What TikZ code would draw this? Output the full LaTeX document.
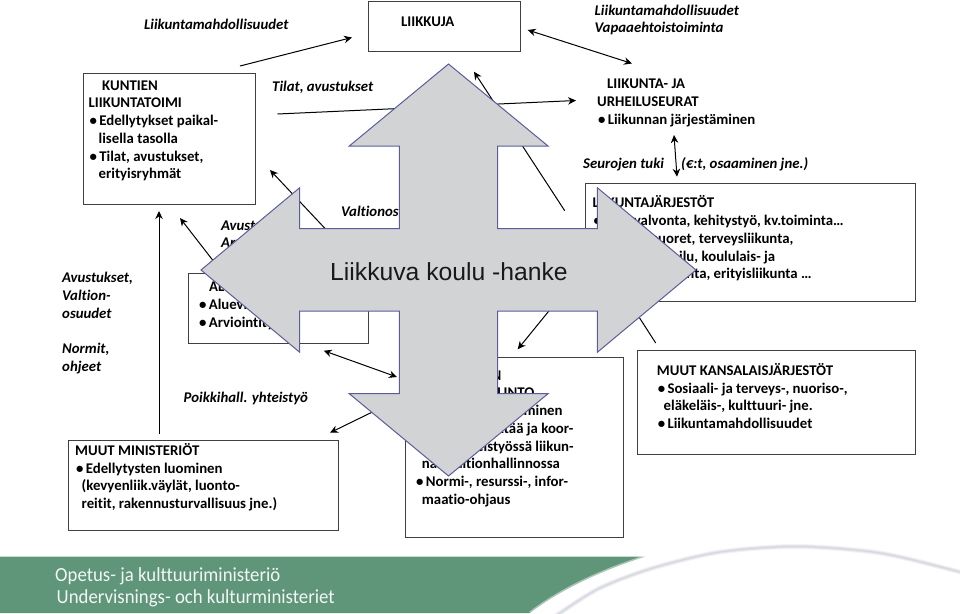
\documentclass[tikz,border=0pt]{standalone}
\usepackage{fontspec}
\setmainfont{Carlito}[Ligatures=CommonOff]
\newfontfamily\bigfont{Liberation Sans}
\newfontfamily\footfont{Carlito}[Ligatures=CommonOff,FakeStretch=0.94]
\usetikzlibrary{arrows.meta}
\definecolor{boxline}{HTML}{404040}
\definecolor{crossfill}{HTML}{D1D3D4}
\definecolor{crossline}{HTML}{5C5C9C}
\definecolor{bandgreen}{HTML}{5F9579}
\definecolor{swoosh}{HTML}{D5D8DE}
\newcommand\fl{\rule{0pt}{12pt}}
\newcommand\bu{\makebox[9.6pt][l]{•}}
\tikzset{
  boxnode/.style={draw=boxline,line width=1.1pt,fill=white,anchor=north west,inner sep=0pt},
  txt/.style={anchor=north west,inner sep=0pt,align=left,font=\fontsize{14.8}{17.75}\selectfont\bfseries},
  itxt/.style={txt,font=\fontsize{14.8}{17.75}\selectfont\bfseries\itshape},
  conn/.style={line width=1pt,draw=black},
  tipend/.style={conn,-{Stealth[length=8pt,width=7.5pt]}},
  tipboth/.style={conn,{Stealth[length=8pt,width=7.5pt]}-{Stealth[length=8pt,width=7.5pt]}},
  cross/.style={fill=crossfill,draw=crossline,line width=1pt,line join=miter},
  foot/.style={anchor=base west,inner sep=0pt,text=white!92!bandgreen,font=\footfont\fontsize{20}{22}\selectfont}
}
\begin{document}
\begin{tikzpicture}[x=1pt,y=-1pt]
\useasboundingbox (0,0) rectangle (960,613);
% footer
\fill[bandgreen] (0,556.7) -- (645,556.7) .. controls (600,571) and (560,590) .. (530,613) -- (0,613) -- cycle;
\draw[white,opacity=.45,line width=3pt] (645,556.7) .. controls (600,571) and (560,590) .. (530,613);
\draw[swoosh!30!white,line width=5pt] plot[smooth] coordinates {(540,628)(560,613)(600,588)(653,568)(720,552)(797,546.5)(880,553)(960,572)(985,580)};
\draw[swoosh!65!white,line width=3pt] plot[smooth] coordinates {(540,628)(560,613)(600,588)(653,568)(720,552)(797,546.5)(880,553)(960,572)(985,580)};
\draw[swoosh,line width=1.2pt] plot[smooth] coordinates {(540,628)(560,613)(600,588)(653,568)(720,552)(797,546.5)(880,553)(960,572)(985,580)};
\node[foot] (f1) at (55,581) {Opetus- ja kulttuuriministeriö};
\node[foot] (f2) at (56.5,603) {Undervisnings- och kulturministeriet};
% boxes
\node[boxnode,minimum width=151.7pt,minimum height=49.5pt] (liikkuja) at (368,1) {};
\node[boxnode,minimum width=172.5pt,minimum height=131.5pt] (kunnat) at (82.5,72.5) {};
\node[boxnode,minimum width=180pt,minimum height=70pt] (alue) at (187.5,273) {};
\node[boxnode,minimum width=270pt,minimum height=90.3pt] (minist) at (67.5,439.7) {};
\node[boxnode,minimum width=217.5pt,minimum height=180pt] (okm) at (405,356.5) {};
\node[boxnode,minimum width=330pt,minimum height=117.7pt] (jarj) at (585,183.3) {};
\node[boxnode,minimum width=277.7pt,minimum height=104pt] (kansal) at (637.3,349.5) {};
% texts
\node[itxt] (l1) at (144,17) {\fl Liikuntamahdollisuudet};
\node[txt] (l2) at (401,14) {\fl LIIKKUJA};
\node[itxt] (l3) at (594.5,3) {\fl Liikuntamahdollisuudet\\Vapaaehtoistoiminta};
\node[itxt] (l4) at (272,79) {\fl Tilat, avustukset};
\node[txt] (t1) at (88.5,78) {\fl\hspace*{13.5pt}KUNTIEN\\LIIKUNTATOIMI\\\hspace*{1pt}\bu Edellytykset paikal-\\\hspace*{10pt}lisella tasolla\\\hspace*{1pt}\bu Tilat, avustukset,\\\hspace*{10pt}erityisryhmät};
\node[txt] (t2) at (597,76.5) {\fl\hspace*{10pt}LIIKUNTA- JA\\URHEILUSEURAT\\\hspace*{1pt}\bu Liikunnan järjestäminen};
\node[itxt] (l5) at (583,156) {\fl Seurojen tuki};
\node[itxt] (l6) at (681,156) {\fl (€:t, osaaminen jne.)};
\node[txt] (t3) at (592.5,195.5) {\fl LIIKUNTAJÄRJESTÖT\\\hspace*{1pt}\bu Edunvalvonta, kehitystyö, kv.toiminta…\\\hspace*{1pt}\bu Lapset, nuoret, terveysliikunta,\\\hspace*{10pt}huippu-urheilu, koululais- ja\\\hspace*{10pt}opiskelijaliikunta, erityisliikunta …};
\node[itxt] (l7) at (221,218) {\fl Avustukset\\Arviointi};
\node[itxt] (l8) at (341,204) {\fl Valtionosuudet};
\node[txt] (t4) at (199,279.7) {\fl\hspace*{10pt}ALUEHALLINTO\\\bu Aluevirastot\\\bu Arviointityö};
\node[itxt] (l9) at (62,270.7) {\fl Avustukset,\\Valtion-\\osuudet};
\node[itxt] (l10) at (62,341.3) {\fl Normit,\\ohjeet};
\node[itxt] (l11) at (183.5,390.7) {\fl Poikkihall. yhteistyö};
\node[txt] (t5) at (75,443) {\fl MUUT MINISTERIÖT\\\hspace*{1pt}\bu Edellytysten luominen\\\hspace*{6.5pt}(kevyenliik.väylät, luonto-\\\hspace*{6.5pt}reitit, rakennusturvallisuus jne.)};
\node[txt] (t6) at (416,368) {\fl\hspace*{32pt}VALTION\\LIIKUNTAHALLINTO\\\bu Edellytysten luominen\\\bu Johtaa, kehittää ja koor-\\\hspace*{5.7pt}dinoi yhteistyössä liikun-\\\hspace*{5.7pt}nan valtionhallinnossa\\\bu Normi-, resurssi-, infor-\\\hspace*{5.7pt}maatio-ohjaus};
\node[txt] (t7) at (656.7,363) {\fl MUUT KANSALAISJÄRJESTÖT\\\hspace*{1pt}\bu Sosiaali- ja terveys-, nuoriso-,\\\hspace*{6.8pt}eläkeläis-, kulttuuri- jne.\\\hspace*{1pt}\bu Liikuntamahdollisuudet};
% connector ends
\coordinate (c1a) at (240,66);   \coordinate (c1b) at (352,37.5);
\coordinate (c2a) at (277.5,114); \coordinate (c2b) at (576,100.5);
\coordinate (c3a) at (527.7,30); \coordinate (c3b) at (632,63.5);
\coordinate (c4a) at (674,135);  \coordinate (c4b) at (677,176.7);
\coordinate (c5a) at (564.7,210.7); \coordinate (c5b) at (474,71.7);
\coordinate (c6a) at (350,255);  \coordinate (c6b) at (270,170);
\coordinate (c7a) at (232,285);  \coordinate (c7b) at (180,218);
\coordinate (c8a) at (159,434);  \coordinate (c8b) at (159,211);
\coordinate (c9a) at (323.7,350.7); \coordinate (c9b) at (397,377);
\coordinate (c10a) at (395,401); \coordinate (c10b) at (330,432.7);
\coordinate (c11a) at (570,285); \coordinate (c11b) at (517.7,349.3);
\coordinate (c12a) at (610,272); \coordinate (c12b) at (655.7,343);
% connectors
\draw[tipend] (c1a) -- (c1b);
\draw[tipend] (c2a) -- (c2b);
\draw[tipboth] (c3a) -- (c3b);
\draw[tipboth] (c4a) -- (c4b);
\draw[tipend] (c5a) -- (c5b);
\draw[tipend] (c6a) -- (c6b);
\draw[tipend] (c7a) -- (c7b);
\draw[tipend] (c8a) -- (c8b);
\draw[tipboth] (c9a) -- (c9b);
\draw[tipend] (c10a) -- (c10b);
\draw[tipend] (c11a) -- (c11b);
\draw[conn] (c12a) -- (c12b);
% big four-way arrow
\draw[cross] (448.5,64) -- (548,146) -- (497.7,146) -- (497.7,228.7) -- (597.3,228.7) -- (597.3,187.7)
  -- (696,270) -- (597.3,352.3) -- (597.3,311) -- (497.7,311) -- (497.7,393.7) -- (548,393.7)
  -- (448.5,476) -- (349.3,393.7) -- (399.3,393.7) -- (399.3,311) -- (299.7,311) -- (299.7,352.3)
  -- (201,270) -- (299.7,187.7) -- (299.7,228.7) -- (399.3,228.7) -- (399.3,146) -- (349.3,146) -- cycle;
\node[inner sep=0pt,font=\bigfont\fontsize{24.7}{28}\selectfont,text=black!90] (hanke) at (449,271.5) {Liikkuva koulu -hanke};
\end{tikzpicture}
\end{document}
